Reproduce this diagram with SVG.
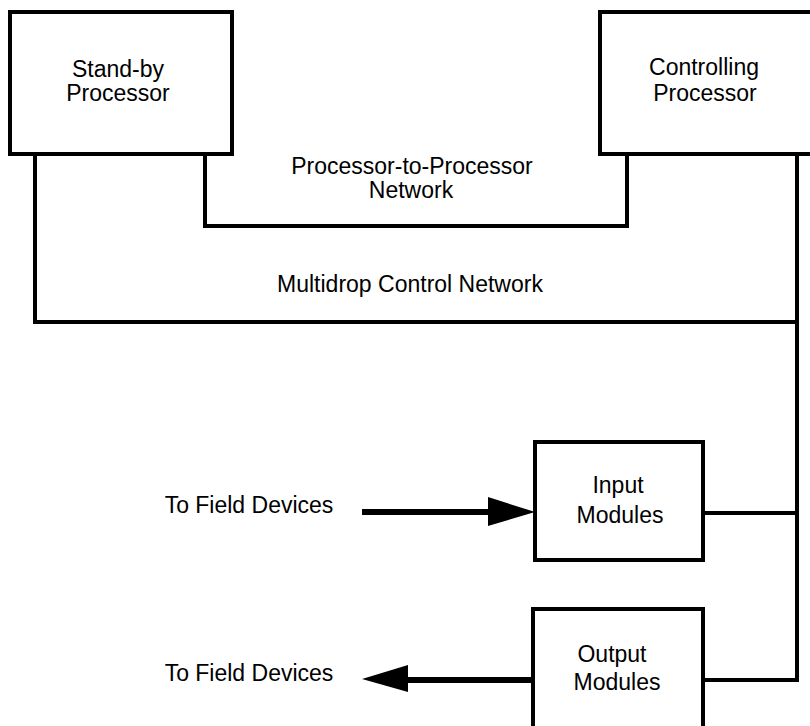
<svg xmlns="http://www.w3.org/2000/svg" width="810" height="726" viewBox="0 0 810 726">
<style>
.box{fill:#fff;stroke:#000;stroke-width:4}
.ln{fill:none;stroke:#000;stroke-width:4;stroke-linejoin:miter;stroke-linecap:square}
.shaft{fill:none;stroke:#000;stroke-width:6}
.head{fill:#000}
text{font-family:"Liberation Sans",Arial,sans-serif;font-size:23px;fill:#000;text-anchor:middle}
</style>
<rect width="810" height="726" fill="#fff"/>
<g id="connectors">
<path class="ln" d="M205,155 V226 H627 V155"/>
<path class="ln" d="M35,155 V322 H797"/>
<path class="ln" d="M797,155 V680 H703"/>
<path class="ln" d="M703,513 H797"/>
<path class="shaft" d="M362,512 H492"/>
<polygon class="head" points="488,497 535,512 488,526"/>
<path class="shaft" d="M404,680 H533"/>
<polygon class="head" points="408,665 362,679 408,692"/>
</g>
<g id="standby">
<rect class="box" x="10" y="12" width="222" height="142"/>
<text x="118" y="77">Stand-by</text>
<text x="118" y="101">Processor</text>
</g>
<g id="controlling">
<rect class="box" x="600" y="12" width="230" height="142"/>
<text x="704" y="75">Controlling</text>
<text x="705" y="101">Processor</text>
</g>
<g id="p2p-label">
<text x="412" y="174">Processor-to-Processor</text>
<text x="411" y="198">Network</text>
</g>
<g id="multidrop-label">
<text x="410" y="292">Multidrop Control Network</text>
</g>
<g id="input">
<rect class="box" x="535" y="442" width="168" height="118"/>
<text x="618" y="493">Input</text>
<text x="620" y="523">Modules</text>
</g>
<g id="output">
<rect class="box" x="533" y="609" width="170" height="130"/>
<text x="612" y="662">Output</text>
<text x="617" y="690">Modules</text>
</g>
<g id="field-in">
<text x="249" y="513">To Field Devices</text>
</g>
<g id="field-out">
<text x="249" y="681">To Field Devices</text>
</g>
</svg>
